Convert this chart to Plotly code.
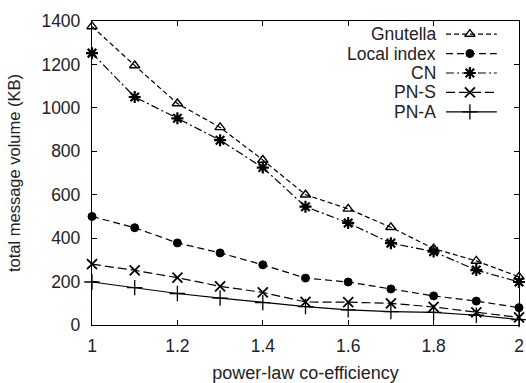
import plotly.graph_objects as go

x_vals = [1.0, 1.1, 1.2, 1.3, 1.4, 1.5, 1.6, 1.7, 1.8, 1.9, 2.0]
gnutella = [1375, 1195, 1020, 910, 760, 600, 535, 450, 352, 295, 222]
local_index = [500, 448, 378, 332, 277, 216, 198, 166, 134, 110, 80]
cn = [1252, 1050, 952, 851, 725, 545, 470, 377, 338, 253, 198]
pn_s = [280, 252, 218, 178, 150, 106, 105, 100, 83, 58, 35]
pn_a = [198, 172, 145, 124, 103, 85, 70, 62, 58, 45, 25]

series_names = ["Gnutella", "Local index", "CN", "PN-S", "PN-A"]
x_ticks = [1, 1.2, 1.4, 1.6, 1.8, 2]
x_tick_labels = ["1", "1.2", "1.4", "1.6", "1.8", "2"]
y_ticks = [0, 200, 400, 600, 800, 1000, 1200, 1400]

FONT = "Liberation Sans, Arial, sans-serif"
TXT = "#222"

styles = [
    dict(dash="5px,3px", symbol="triangle-up-open", size=9, lw=1.4),
    dict(dash="7px,4px", symbol="circle", size=8, lw=1),
    dict(dash="8px,3px,2px,3px", symbol="asterisk-open", size=10, lw=2.2),
    dict(dash="9px,4px", symbol="x-thin-open", size=10, lw=1.8),
    dict(dash="solid", symbol="cross-thin-open", size=11, lw=1.3),
]
data = [gnutella, local_index, cn, pn_s, pn_a]

fig = go.Figure()
for name, ys, st in zip(series_names, data, styles):
    fig.add_trace(go.Scatter(
        x=x_vals, y=ys, mode="lines+markers", name=name, showlegend=False,
        line=dict(color="black", width=1.2, dash=st["dash"]),
        marker=dict(symbol=st["symbol"], size=st["size"], color="black",
                    line=dict(color="black", width=st["lw"])),
        cliponaxis=False,
    ))

# custom legend (text right-aligned, sample to the right), on an overlay axis
leg_y = [0.957, 0.893, 0.829, 0.765, 0.701]
for name, st, yy in zip(series_names, styles, leg_y):
    fig.add_trace(go.Scatter(
        x=[0.829, 0.885, 0.948], y=[yy, yy, yy], xaxis="x2", yaxis="y2",
        mode="lines", showlegend=False, hoverinfo="skip",
        line=dict(color="black", width=1.2, dash=st["dash"]),
    ))
    fig.add_trace(go.Scatter(
        x=[0.885], y=[yy], xaxis="x2", yaxis="y2",
        mode="markers", showlegend=False, hoverinfo="skip",
        marker=dict(symbol=st["symbol"], size=st["size"], color="black",
                    line=dict(color="black", width=st["lw"])),
        cliponaxis=False,
    ))
    fig.add_annotation(text=name, xref="x2", yref="y2", x=0.81, y=yy,
                       xanchor="right", yanchor="middle", showarrow=False,
                       font=dict(family=FONT, size=17.5, color=TXT))

axis_common = dict(showline=True, linecolor="black", linewidth=1.3, mirror="allticks",
                   ticks="inside", ticklen=5, tickcolor="black", tickwidth=1,
                   showgrid=False, zeroline=False, automargin=False,
                   tickfont=dict(family=FONT, size=17.5, color=TXT))

fig.update_layout(
    width=526, height=383,
    margin=dict(l=92, r=7, t=21, b=58),
    paper_bgcolor="white", plot_bgcolor="white",
    xaxis=dict(range=[1, 2], tickvals=x_ticks, ticktext=x_tick_labels,
               ticklabelstandoff=5,
               title=dict(text="power-law co-efficiency", standoff=15,
                          font=dict(family=FONT, size=18, color=TXT)),
               **axis_common),
    yaxis=dict(range=[0, 1400], tickvals=y_ticks, ticklabelstandoff=7,
               title=dict(text="total message volume (KB)", standoff=16,
                          font=dict(family=FONT, size=16.5, color=TXT)),
               **axis_common),
    xaxis2=dict(overlaying="x", range=[0, 1], visible=False, fixedrange=True),
    yaxis2=dict(overlaying="y", range=[0, 1], visible=False, fixedrange=True),
    showlegend=False,
)

fig.write_html("out.html")
